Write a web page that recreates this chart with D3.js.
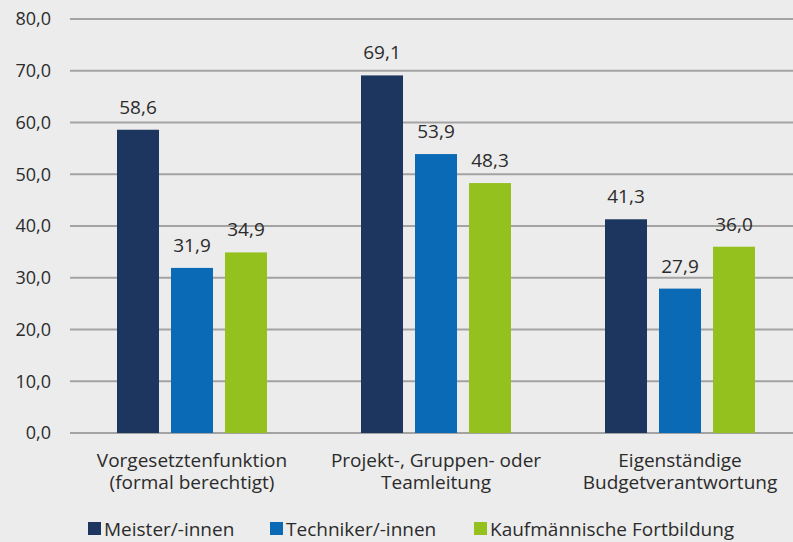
<!DOCTYPE html>
<html>
<head>
<meta charset="utf-8">
<script src="https://cdn.jsdelivr.net/npm/d3@7"></script>
<style>
  html, body { margin: 0; padding: 0; background: #ececec; }
  svg { display: block; font-family: "Open Sans", "Noto Sans", sans-serif; }
</style>
</head>
<body>
<div id="chart"></div>
<script>
// data
const categories = [
    ["Vorgesetztenfunktion", "(formal berechtigt)"],
    ["Projekt-, Gruppen- oder", "Teamleitung"],
    ["Eigenständige", "Budgetverantwortung"]
];
const seriesNames = ["Meister/-innen", "Techniker/-innen", "Kaufmännische Fortbildung"];
const meister = [58.6, 69.1, 41.3];
const techniker = [31.9, 53.9, 27.9];
const kaufmann = [34.9, 48.3, 36.0];
const yTicks = [0, 10, 20, 30, 40, 50, 60, 70, 80];

const colors = ["#1c365f", "#0a6ab5", "#95c11f"];
const seriesValues = [meister, techniker, kaufmann];
const textColor = "#2b2b2b";

const width = 793, height = 542;
const margin = { left: 70, right: -9, top: 19, bottom: 109 };
const fmt = v => v.toFixed(1).replace(".", ",");

const svg = d3.select("#chart").append("svg")
    .attr("width", width)
    .attr("height", height);

svg.append("rect").attr("width", width).attr("height", height).attr("fill", "#ececec");

const x = d3.scaleBand()
    .domain(d3.range(categories.length))
    .range([margin.left, width - margin.right]);

const y = d3.scaleLinear()
    .domain([0, 80])
    .range([height - margin.bottom, margin.top]);

const inner = d3.scaleBand()
    .domain(d3.range(seriesNames.length))
    .range([47, 197])
    .paddingInner(0.222);

// gridlines
svg.append("g")
    .selectAll("line")
    .data(yTicks)
    .enter().append("line")
        .attr("x1", margin.left)
        .attr("x2", width)
        .attr("y1", d => y(d))
        .attr("y2", d => y(d))
        .attr("stroke", "#a3a3a3")
        .attr("stroke-width", 2);

// y tick labels
svg.append("g")
    .selectAll("text")
    .data(yTicks)
    .enter().append("text")
        .attr("x", 51)
        .attr("y", d => y(d))
        .attr("dy", "0.35em")
        .attr("text-anchor", "end")
        .attr("font-size", 18)
        .attr("fill", textColor)
        .text(d => fmt(d));

// bars
const groups = svg.append("g")
    .selectAll("g")
    .data(categories)
    .enter().append("g")
        .attr("transform", (d, i) => "translate(" + x(i) + ",0)");

groups.selectAll("rect")
    .data((d, i) => seriesValues.map((s, k) => ({ k: k, v: s[i] })))
    .enter().append("rect")
        .attr("x", d => inner(d.k))
        .attr("y", d => y(d.v))
        .attr("width", inner.bandwidth())
        .attr("height", d => y(0) - y(d.v))
        .attr("fill", d => colors[d.k]);

groups.selectAll("text.val")
    .data((d, i) => seriesValues.map((s, k) => ({ k: k, v: s[i] })))
    .enter().append("text")
        .attr("class", "val")
        .attr("x", d => inner(d.k) + inner.bandwidth() / 2)
        .attr("y", d => y(d.v) - 16)
        .attr("text-anchor", "middle")
        .attr("font-size", 19)
        .attr("fill", textColor)
        .text(d => fmt(d.v));

// category labels
groups.append("text")
    .attr("y", y(0) + 34)
    .attr("text-anchor", "middle")
    .attr("font-size", 19)
    .attr("fill", textColor)
    .selectAll("tspan")
    .data(d => d)
    .enter().append("tspan")
        .attr("x", 122)
        .attr("dy", (d, i) => i === 0 ? 0 : 22)
        .text(d => d);

// legend
const legendX = [88, 270, 474];
const legend = svg.append("g")
    .selectAll("g")
    .data(seriesNames)
    .enter().append("g")
        .attr("transform", (d, i) => "translate(" + legendX[i] + ",522)");

legend.append("rect")
    .attr("width", 13)
    .attr("height", 13)
    .attr("fill", (d, i) => colors[i]);

legend.append("text")
    .attr("x", 16)
    .attr("y", 14)
    .attr("font-size", 19)
    .attr("fill", textColor)
    .text(d => d);
</script>
</body>
</html>
